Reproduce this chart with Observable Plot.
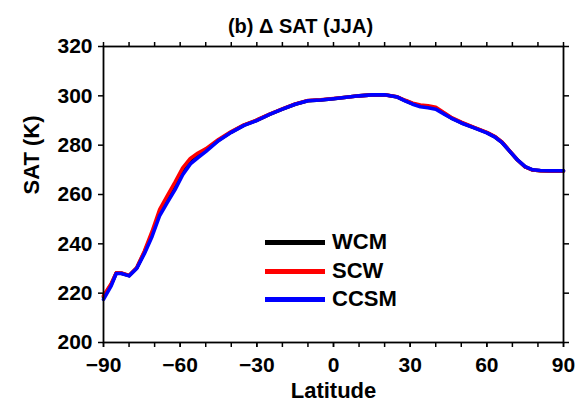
<!DOCTYPE html>
<html><head><meta charset="utf-8">
<script src="https://cdn.jsdelivr.net/npm/d3@7"></script>
<script src="https://cdn.jsdelivr.net/npm/@observablehq/plot@0.6"></script>
<style>
body{margin:0;background:#fff;}
#wrap{position:relative;width:581px;height:406px;font-family:"Liberation Sans",Arial,sans-serif;font-weight:bold;}
.leg{position:absolute;left:265px;height:26px;display:flex;align-items:center;}
.leg .sw{display:inline-block;width:60px;height:5px;margin-right:7px;}
.leg .t{font-size:22px;color:#000;}
</style></head><body><div id="wrap"></div>
<script>
const lat  = [-90, -87, -85, -83, -80, -77, -74, -71, -68, -65, -62, -59, -56, -53, -50, -45, -40, -35, -30, -25, -20, -15, -10, -5, 0, 5, 10, 15, 20, 25, 28, 31, 34, 37, 40, 43, 46, 50, 55, 60, 63, 66, 69, 72, 75, 78, 81, 85, 90];
const ccsm = [217.5, 223, 228, 228, 227, 230, 236, 243, 251.5, 256.8, 262, 268, 272.4, 275, 277.4, 281.8, 285.2, 288, 290, 292.5, 294.6, 296.6, 298, 298.3, 298.8, 299.4, 300, 300.4, 300.4, 299.5, 298, 296.6, 295.6, 295.2, 294.6, 292.8, 291, 289, 287, 285, 283.4, 281, 277.5, 274, 271.3, 270, 269.7, 269.6, 269.6];
const scw  = [219, 223.8, 228.3, 228.2, 227.2, 230.3, 237, 245, 254, 259.5, 265, 270.8, 274.6, 276.8, 278.5, 282.3, 285.5, 288.2, 290.2, 292.6, 294.7, 296.7, 298.1, 298.4, 298.9, 299.4, 300, 300.4, 300.4, 299.6, 298.2, 297, 296.3, 296, 295.4, 293.3, 291.3, 289.3, 287.2, 285.2, 283.6, 281.2, 277.6, 274, 271.2, 269.9, 269.6, 269.5, 269.5];
const wcm  = [218.5, 223.5, 228.2, 228.1, 227.1, 230.2, 236.6, 244, 253, 258.5, 264, 269.5, 273.6, 276, 278, 282, 285.3, 288.1, 290.1, 292.5, 294.6, 296.6, 298, 298.3, 298.8, 299.4, 300, 300.4, 300.4, 299.5, 298.1, 296.8, 296, 295.6, 295, 293, 291.1, 289.1, 287.1, 285.1, 283.5, 281.1, 277.5, 274, 271.2, 269.9, 269.6, 269.5, 269.5];
const seriesNames  = ["WCM", "SCW", "CCSM"];
const seriesColors = ["#000000", "#ff0000", "#0000ff"];
const xTicks = [-90, -60, -30, 0, 30, 60, 90];
const xMinorTicks = [-90, -80, -70, -60, -50, -40, -30, -20, -10, 0, 10, 20, 30, 40, 50, 60, 70, 80, 90];
const yTicks = [200, 220, 240, 260, 280, 300, 320];
const titleText = "(b) \u0394 SAT (JJA)";
const xLabel = "Latitude";
const yLabel = "SAT (K)";

const values = [wcm, scw, ccsm];
const rows = [];
seriesNames.forEach((s, j) => lat.forEach((l, i) => rows.push({lat: l, K: values[j][i], series: s})));

const font = '"Liberation Sans", Arial, sans-serif';
const chart = Plot.plot({
  width: 581, height: 406,
  marginLeft: 103, marginRight: 18, marginTop: 46, marginBottom: 64,
  x: {domain: [-90, 90]},
  y: {domain: [200, 320]},
  color: {domain: seriesNames, range: seriesColors},
  style: {fontFamily: font, fontSize: "21px", fontWeight: "bold", color: "black", background: "white"},
  marks: [
    Plot.line(rows, {x: "lat", y: "K", z: "series", stroke: "series", strokeWidth: 3.6}),
    Plot.frame({strokeWidth: 1.8}),
    Plot.axisX({ticks: xMinorTicks, tickSize: 5, tickFormat: () => "", label: null, strokeWidth: 1.5}),
    Plot.axisX({ticks: xTicks, tickSize: 5, tickPadding: 10, label: null, strokeWidth: 1.5}),
    Plot.axisX({anchor: "top", ticks: xMinorTicks, tickSize: 5, tickFormat: () => "", label: null, strokeWidth: 1.5}),
    Plot.axisY({ticks: yTicks, tickSize: 5, tickPadding: 6, label: null, strokeWidth: 1.5}),
    Plot.axisY({anchor: "right", ticks: yTicks, tickSize: 5, tickFormat: () => "", label: null, strokeWidth: 1.5}),
    Plot.text([titleText], {text: d => d, frameAnchor: "top", dx: -33, dy: -28, fontSize: 20}),
    Plot.text([xLabel], {text: d => d, frameAnchor: "bottom", dy: 55, fontSize: 22}),
    Plot.text([yLabel], {text: d => d, frameAnchor: "left", dx: -72, rotate: -90, fontSize: 22})
  ]
});
const wrap = document.getElementById("wrap");
wrap.appendChild(chart);
const legTops = [229, 258, 286];
seriesNames.forEach((s, j) => {
  const d = document.createElement("div");
  d.className = "leg";
  d.style.top = legTops[j] + "px";
  d.innerHTML = `<span class="sw" style="background:${seriesColors[j]}"></span><span class="t">${s}</span>`;
  wrap.appendChild(d);
});
</script></body></html>
